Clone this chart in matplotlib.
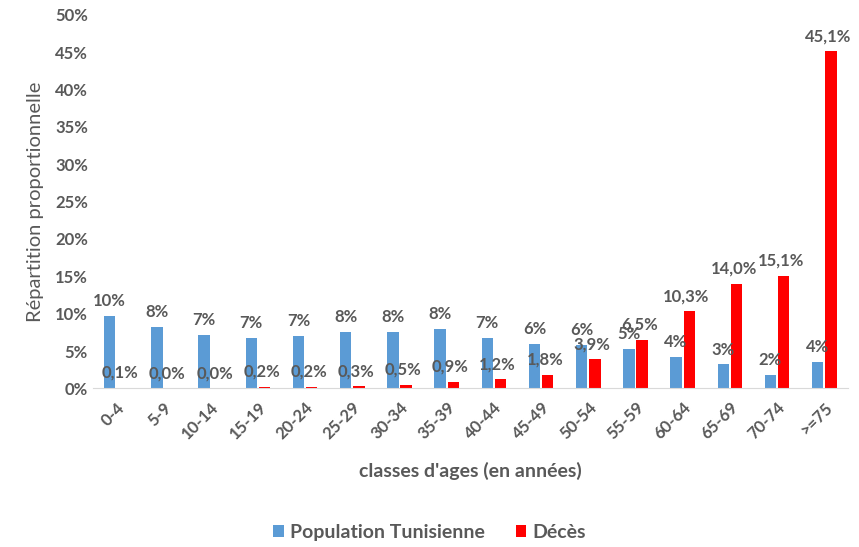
import numpy as np
import matplotlib.pyplot as plt

plt.rcParams['font.family'] = ['Lato', 'DejaVu Sans']

classes = ['0-4', '5-9', '10-14', '15-19', '20-24', '25-29', '30-34', '35-39',
           '40-44', '45-49', '50-54', '55-59', '60-64', '65-69', '70-74', '>=75']
population = [9.7, 8.2, 7.2, 6.7, 7.0, 7.6, 7.6, 8.0,
              6.8, 6.0, 5.8, 5.25, 4.2, 3.2, 1.8, 3.5]
deces = [0.1, 0.0, 0.0, 0.2, 0.2, 0.3, 0.5, 0.9,
         1.2, 1.8, 3.9, 6.5, 10.3, 14.0, 15.1, 45.1]

gris = '#595959'
fig = plt.figure(figsize=(8.59, 5.47), dpi=100)
ax = fig.add_axes([0.108, 0.290, 0.879, 0.683])

x = np.arange(len(classes))
w = 0.24
b1 = ax.bar(x - 0.14, population, w, color='#5B9BD5', label='Population Tunisienne')
b2 = ax.bar(x + 0.14, deces, w, color='#FF0000', label='Décès')

# étiquettes au-dessus des barres (virgule décimale)
for rect, v in zip(b1, population):
    ax.annotate(f'{v:.0f}%', (rect.get_x() + rect.get_width() / 2, v),
                xytext=(0, 5), textcoords='offset points', ha='center', va='bottom',
                fontsize=12, fontweight='bold', color=gris)
for rect, v in zip(b2, deces):
    ax.annotate(f'{v:.1f}%'.replace('.', ','), (rect.get_x() + rect.get_width() / 2, v),
                xytext=(-2, 5), textcoords='offset points', ha='center', va='bottom',
                fontsize=12, fontweight='bold', color=gris)

ax.set_xlim(-0.5, len(classes) - 0.5)
ax.set_ylim(0, 50)
ax.set_yticks(np.arange(0, 51, 5))
ax.set_yticklabels([f'{t}%' for t in range(0, 51, 5)], fontweight='bold')
ax.set_xticks(x)
ax.set_xticklabels(classes, rotation=45, ha='right', rotation_mode='anchor',
                   fontweight='bold')
ax.tick_params(axis='both', length=0, colors=gris, labelsize=12)
ax.tick_params(axis='x', pad=8)

for s in ['top', 'right', 'left']:
    ax.spines[s].set_visible(False)
ax.spines['bottom'].set_color('#D9D9D9')

ax.set_ylabel('Répartition proportionnelle', fontsize=14.5, color=gris, labelpad=8)
ax.set_xlabel("classes d'ages (en années)", fontsize=14, color=gris,
              fontweight='bold', labelpad=14)

fig.legend(loc='center', bbox_to_anchor=(0.5, 0.027), ncol=2, frameon=False,
           handlelength=0.55, handleheight=0.55, columnspacing=1.6,
           handletextpad=0.3, labelcolor=gris, prop={'weight': 'bold', 'size': 14})

fig.savefig('out.png', dpi=100)
